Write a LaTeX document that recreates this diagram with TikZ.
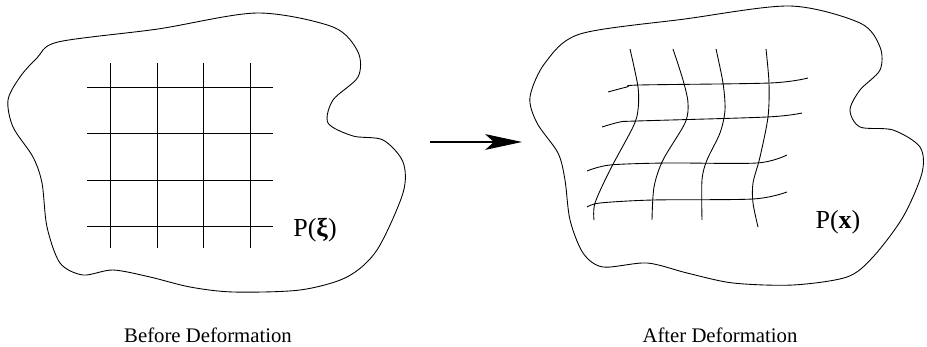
\documentclass[tikz,border=0pt]{standalone}
\usepackage{fontspec}
\setmainfont{Liberation Serif}
\usepackage{tikz}
\usetikzlibrary{positioning,calc,arrows.meta}

\tikzset{
	blob/.style={line width=0.5pt, smooth cycle, tension=0.5},
	gridline/.style={line width=0.5pt},
	caption/.style={font=\fontsize{11.8}{14}\selectfont, inner sep=0pt},
	plabel/.style={font=\fontsize{14.8}{17}\selectfont, inner sep=0pt}
}

\begin{document}
\begin{tikzpicture}[x=0.02cm, y=-0.02cm]
		\useasboundingbox (0,0) rectangle (927,347);
		
		% body before deformation
		\draw[blob] plot coordinates {(58,42) (158,29) (257,13) (333,27) (358,52) (358,77) (333,100) (328,123) (353,136) (383,140) (403,162) (403,193) (377,250) (347,277) (300,290) (233,292) (190,287) (150,277) (113,270) (83,275) (60,263) (47,227) (42,183) (33,157) (13,127) (8,100) (20,77) (37,58)};
		\foreach \x in {110,157,203,250}
			\draw[gridline] (\x,63)--(\x,248);
		\foreach \y in {87,133,180,226}
			\draw[gridline] (87,\y)--(273,\y);
		\node[plabel] (Pxi) at (315,230) {P(\textbf{ξ})};
		\node[caption] (before) at (208,335) {Before Deformation};
		
		% mapping
		\coordinate (a0) at (430,142);
		\coordinate (a1) at (522,142);
		\draw[line width=0.6pt, -{Stealth[length=21pt, width=9pt, inset=5pt]}] (a0)--(a1);
		
		% body after deformation
		\draw[blob] plot coordinates {(580,34) (685,19) (790,6) (860,23) (880,47) (880,70) (860,90) (850,110) (860,127) (893,130) (920,147) (922,173) (903,217) (873,257) (847,277) (793,285) (733,283) (687,273) (647,263) (603,267) (583,253) (570,220) (565,180) (558,153) (537,123) (530,97) (545,63)};
		\draw[gridline] plot[smooth] coordinates {(630,49) (638,87) (638,110) (633,127) (610,170) (595,203) (594,220)};
		\draw[gridline] plot[smooth] coordinates {(673,49) (683,80) (688,103) (685,123) (663,160) (654,187) (652,220)};
		\draw[gridline] plot[smooth] coordinates {(716,49) (723,83) (725,110) (720,133) (707,160) (702,180) (702,220)};
		\draw[gridline] plot[smooth] coordinates {(766,49) (769,83) (768,117) (760,157) (753,183) (753,203) (758,227)};
		\draw[gridline] plot[smooth] coordinates {(608,92) (627,87) (640,85) (770,83) (808,78)};
		\draw[gridline] plot[smooth] coordinates {(602,127) (620,122) (637,121) (767,117) (802,113)};
		\draw[gridline] plot[smooth] coordinates {(587,171) (610,165) (667,163) (757,163) (787,155)};
		\draw[gridline] plot[smooth] coordinates {(587,207) (600,203) (653,200) (753,199) (787,192)};
		\node[plabel] (Px) at (838,222) {P(\textbf{x})};
		\node[caption] (after) at (720,335) {After Deformation};
	\end{tikzpicture}
\end{document}
